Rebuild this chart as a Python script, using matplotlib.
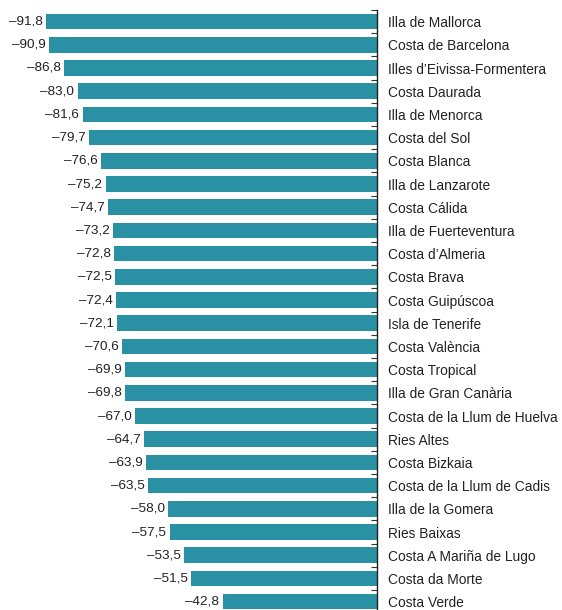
import matplotlib.pyplot as plt
import numpy as np

plt.rcParams['font.family'] = ['Liberation Sans', 'DejaVu Sans']

names = ["Illa de Mallorca", "Costa de Barcelona", "Illes d\u2019Eivissa-Formentera",
         "Costa Daurada", "Illa de Menorca", "Costa del Sol", "Costa Blanca",
         "Illa de Lanzarote", "Costa Cálida", "Illa de Fuerteventura",
         "Costa d\u2019Almeria", "Costa Brava", "Costa Guipúscoa", "Isla de Tenerife",
         "Costa València", "Costa Tropical", "Illa de Gran Canària",
         "Costa de la Llum de Huelva", "Ries Altes", "Costa Bizkaia",
         "Costa de la Llum de Cadis", "Illa de la Gomera", "Ries Baixas",
         "Costa A Mariña de Lugo", "Costa da Morte", "Costa Verde"]
values = [-91.8, -90.9, -86.8, -83.0, -81.6, -79.7, -76.6, -75.2, -74.7, -73.2,
          -72.8, -72.5, -72.4, -72.1, -70.6, -69.9, -69.8, -67.0, -64.7, -63.9,
          -63.5, -58.0, -57.5, -53.5, -51.5, -42.8]

color = '#2a91a5'

fig = plt.figure(figsize=(5.62, 6.10), dpi=100)
ax = fig.add_axes([0, 0, 377 / 562, 1 - 10 / 610])

y = np.arange(len(values))
ax.barh(y, values, height=0.68, color=color)

for yi, v in zip(y, values):
    txt = ('\u2013%.1f' % abs(v)).replace('.', ',')
    ax.text(v - 0.9, yi, txt, ha='right', va='center', fontsize=9.7, color='#222222')

ax.set_xlim(-104.5, 0)
ax.set_ylim(-0.5 + 600 / 23.2, -0.5)

for s in ['top', 'left', 'bottom']:
    ax.spines[s].set_visible(False)
ax.spines['right'].set_linewidth(1.0)
ax.spines['right'].set_color('#222222')

ax.set_xticks([])
ax.yaxis.tick_right()
ax.set_yticks(y)
ax.set_yticklabels(names, fontsize=9.9, color='#222222')
ax.tick_params(axis='y', which='major', length=0, pad=8)
ax.set_yticks(np.arange(len(values)) - 0.5, minor=True)
ax.tick_params(axis='y', which='minor', direction='in', length=4, width=0.8, color='#333333')

fig.savefig('out.png', dpi=100)
